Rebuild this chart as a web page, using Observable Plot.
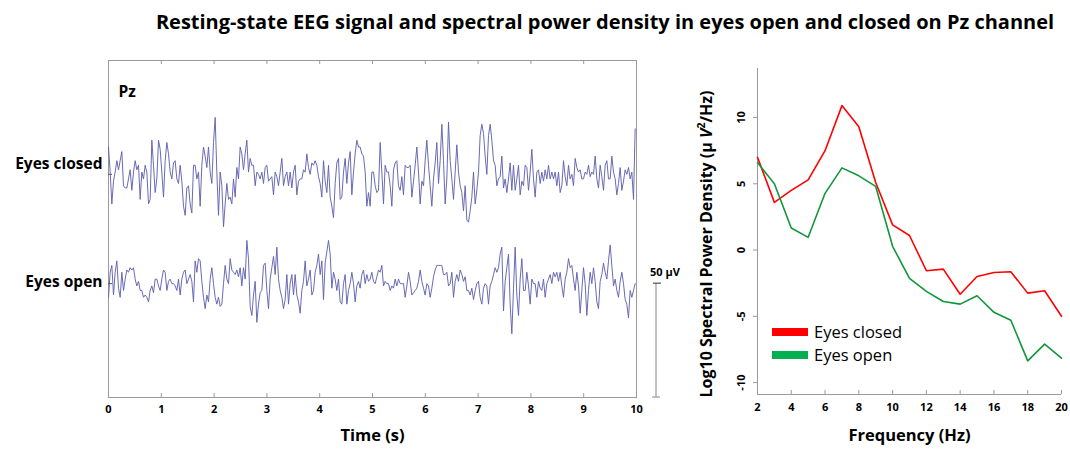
<!DOCTYPE html>
<html>
<head>
<meta charset="utf-8">
<script src="https://cdn.jsdelivr.net/npm/d3@7"></script>
<script src="https://cdn.jsdelivr.net/npm/@observablehq/plot@0.6"></script>
<style>
  body { margin: 0; background: #fff; }
  #wrap { position: relative; width: 1070px; height: 450px; font-family: "Open Sans", Lato, sans-serif; }
  #title { position: absolute; left: 150px; top: 8px; width: 910px; text-align: center; font-weight: bold; font-size: 20px; line-height: 28px; color: #000; white-space: nowrap; }
  #left, #right { position: absolute; top: 0; }
  #left { left: 0; }
  #right { left: 640px; }
  .lg { position: absolute; font-size: 16.5px; line-height: 22px; color: #000; white-space: nowrap; }
  .sw { position: absolute; width: 36px; height: 8px; }
</style>
</head>
<body>
<div id="wrap">
  <div id="title">Resting-state EEG signal and spectral power density in eyes open and closed on Pz channel</div>
  <div id="left"></div>
  <div id="right"></div>
</div>
<script>
// ---------- EEG traces (µV) ----------
const sampleRate = 31.68; // samples per second
const channelName = "Pz";
const traceNames = ["Eyes closed", "Eyes open"];
const traceOffsets = [98, 50]; // µV baseline offsets of each trace
const scaleBarUV = 50;
const timeTicks = [0,1,2,3,4,5,6,7,8,9,10];

const eyesClosed = [
  12,1,-13,-3,1,6,2,6,10,-5,-6,-6,-2,2,-7,1,6,2,4,-11,1,-2,4,1,-13,-11,15,4,-8,-2,15,11,1,-10,6,14,9,1,-2,5,6,-2,-4,4,-3,-14,-18,-6,-5,-13,-17,4,
  4,-2,1,-14,4,12,8,3,12,1,-4,14,25,1,-18,1,-5,-23,-13,-4,-11,-10,-13,-2,-10,3,-2,12,9,2,9,15,1,7,4,4,-5,1,0,-2,1,-4,3,4,-3,-2,-1,-9,1,-1,-5,1,7,-5,
  -1,1,-5,1,-6,1,4,-9,-3,-2,-2,2,1,9,3,0,5,4,6,4,-1,-4,-10,6,-3,-8,4,-10,-14,-19,-4,5,7,-11,-10,1,7,-4,5,10,-9,1,9,15,12,12,9,8,1,-14,-8,-14,1,1,
  -5,-8,-7,14,1,-13,4,1,1,-5,-14,2,5,6,-5,-7,-1,-9,4,3,3,4,-10,-3,4,12,1,-13,-3,-5,6,15,4,-5,-14,-2,5,14,-4,6,22,6,-13,-2,23,6,-2,-11,1,13,1,-5,-8,-16,
  -5,-20,-21,-16,-10,1,-13,-7,1,17,22,18,8,0,17,22,15,6,4,-5,-2,-1,8,-6,-2,-8,-2,5,-7,4,-7,-2,4,-9,-3,-5,4,3,-7,1,11,-2,-10,1,2,-4,1,-3,2,-2,4,-2,1,-2,
  1,-5,1,-8,-5,6,-1,-5,4,-2,0,-5,7,3,1,2,-2,-2,1,0,4,-1,1,0,8,-2,-6,4,-1,-7,4,6,-2,-2,8,1,-2,-9,-4,3,-7,-3,2,0,3,-2,1,-11,20
];
const eyesOpen = [
  -6,5,8,-5,5,10,-2,-6,5,-3,2,6,5,7,6,7,2,-1,1,-3,-3,-6,-5,-6,-8,-3,-1,-4,2,2,-1,-3,2,6,5,-3,1,2,0,0,-1,-3,2,-5,2,5,6,0,2,4,1,-8,
  10,5,11,10,1,-6,-11,-5,-8,2,7,0,-6,-9,-6,-10,-9,0,8,2,0,11,6,5,4,6,3,7,-1,7,2,19,11,-10,-14,-5,1,-17,-9,-4,-3,8,9,-3,-11,2,7,12,4,16,2,-3,-6,-11,
  -7,4,-9,0,4,-5,4,-5,-8,-13,-3,1,10,-1,2,6,-5,-3,5,8,13,4,10,-7,9,14,19,13,-2,5,2,-3,2,-8,-9,0,4,-9,-3,0,5,0,-8,-1,1,-2,4,6,0,4,1,2,5,1,
  0,3,6,5,8,-1,1,0,0,-3,-1,-2,2,-1,2,0,0,0,-6,-1,5,1,-5,-4,-3,-2,1,6,1,-2,-5,0,-1,-6,-2,3,6,8,8,8,8,4,4,5,-1,0,5,-6,1,4,1,6,4,1,
  3,-3,-3,-5,-2,-7,-3,0,1,-6,-9,-2,0,-1,-9,-1,1,4,7,5,7,13,16,-12,1,7,13,-9,-22,-2,16,-5,-14,2,11,-3,-3,5,-1,-9,2,0,0,-6,1,-2,-3,2,-6,0,2,4,0,5,
  3,5,1,5,-1,-6,2,5,11,7,8,2,-3,5,-1,-13,-3,7,0,-14,-3,5,0,7,1,-8,-11,1,4,9,5,2,10,17,8,-1,2,-3,-6,1,5,0,-7,-9,-15,-3,-6,-3,0
];

// ---------- Spectral power density ----------
const frequencies = [2,3,4,5,6,7,8,9,10,11,12,13,14,15,16,17,18,19,20];
const psdClosed = [7.0,3.6,4.5,5.3,7.5,10.9,9.3,5.1,1.9,1.1,-1.56,-1.44,-3.33,-2.0,-1.69,-1.64,-3.25,-3.07,-5.0];
const psdOpen   = [6.6,5.0,1.66,0.96,4.28,6.2,5.6,4.8,0.28,-2.14,-3.12,-3.88,-4.08,-3.45,-4.7,-5.3,-8.36,-7.1,-8.16];
const seriesNames = ["Eyes closed", "Eyes open"];
const seriesColors = ["#ff0000", "#10973a"];
const legendColors = ["#ff0000", "#00b050"];
const freqTicks = [2,4,6,8,10,12,14,16,18,20];
const powerTicks = [-10,-5,0,5,10];
const powerDomain = [-10.9, 13.7];

const axisGray = "#9a9a9a";
const font = "'Open Sans', Lato, sans-serif";

// ---------- Left panel ----------
const eegRows = [];
[eyesClosed, eyesOpen].forEach((arr, k) => {
  arr.forEach((v, i) => eegRows.push({t: i / sampleRate, v: v + traceOffsets[k], trace: traceNames[k]}));
});

const W1 = 690, H = 450, mL1 = 108, mR1 = 54, mT1 = 60, mB1 = 53;
const frameH1 = H - mT1 - mB1;
const left = Plot.plot({
  width: W1, height: H,
  marginLeft: mL1, marginRight: mR1, marginTop: mT1, marginBottom: mB1,
  style: {fontFamily: font, background: "transparent", overflow: "visible"},
  x: {domain: [0, 10]},
  y: {domain: [0, 148]},
  marks: [
    Plot.frame({stroke: axisGray}),
    Plot.tickX(timeTicks, {x: d => d, insetTop: frameH1 - 4, stroke: axisGray}),
    Plot.tickX(timeTicks, {x: d => d, insetBottom: frameH1 - 4, stroke: axisGray}),
    Plot.tickY(traceOffsets, {y: d => d, insetRight: (W1 - mL1 - mR1) - 4, stroke: "#555"}),
    Plot.axisX({ticks: timeTicks, tickSize: 0, tickPadding: 8, fontSize: 11, fontWeight: "bold", label: null, tickFormat: d => String(d)}),
    Plot.axisY({ticks: [], label: null}),
    Plot.line(eegRows, {x: "t", y: "v", z: "trace", stroke: "#6262b0", strokeWidth: 0.95}),
    Plot.text([traceNames[0]], {x: 0, y: traceOffsets[0], textAnchor: "end", dx: -6, dy: -10, fontSize: 15.5, fontWeight: "bold", fill: "#000"}),
    Plot.text([traceNames[1]], {x: 0, y: traceOffsets[1], textAnchor: "end", dx: -6, dy: -2, fontSize: 15.5, fontWeight: "bold", fill: "#000"}),
    Plot.text([channelName], {frameAnchor: "top-left", dx: 10, dy: 25, fontSize: 15.5, fontWeight: "bold", fill: "#000"}),
    Plot.text(["Time (s)"], {frameAnchor: "bottom", dy: 43, fontSize: 16.5, fontWeight: "bold", fill: "#000"})
  ]
});
document.getElementById("left").appendChild(left);

// scale bar drawn with the plot's own scales
{
  const sx = left.scale("x"), sy = left.scale("y");
  const bx = sx.apply(10) + 20;
  const y0 = sy.apply(0), y1 = sy.apply(scaleBarUV);
  const g = d3.select(left).append("g").attr("stroke", "#888").attr("stroke-width", 1);
  g.append("line").attr("x1", bx).attr("x2", bx).attr("y1", y0).attr("y2", y1);
  g.append("line").attr("x1", bx - 4).attr("x2", bx + 4).attr("y1", y0).attr("y2", y0);
  g.append("line").attr("x1", bx - 3).attr("x2", bx + 5).attr("y1", y1).attr("y2", y1).attr("stroke", "#333");
  d3.select(left).append("text").attr("x", bx + 9).attr("y", y1 - 7)
    .attr("text-anchor", "middle")
    .attr("font-family", font).attr("font-size", 11).attr("font-weight", "bold").attr("fill", "#000")
    .text(scaleBarUV + " µV");
}

// ---------- Right panel ----------
const psdRows = [];
frequencies.forEach((f, i) => {
  psdRows.push({f, p: psdClosed[i], series: seriesNames[0]});
});
frequencies.forEach((f, i) => {
  psdRows.push({f, p: psdOpen[i], series: seriesNames[1]});
});
const W2 = 430, mL2 = 117, mR2 = 9, mT2 = 68, mB2 = 56;
const frameH2 = H - mT2 - mB2;
const right = Plot.plot({
  width: W2, height: H,
  marginLeft: mL2, marginRight: mR2, marginTop: mT2, marginBottom: mB2,
  style: {fontFamily: font, background: "transparent", overflow: "visible"},
  x: {domain: [2, 20]},
  y: {domain: powerDomain},
  color: {domain: seriesNames, range: seriesColors},
  marks: [
    Plot.ruleX([frequencies[0]], {stroke: axisGray}),
    Plot.ruleY([powerDomain[0]], {stroke: axisGray}),
    Plot.tickX(freqTicks, {x: d => d, insetTop: frameH2 - 4, stroke: axisGray}),
    Plot.axisX({ticks: freqTicks, tickSize: 0, tickPadding: 9, fontSize: 11, fontWeight: "bold", label: null, tickFormat: d => String(d)}),
    Plot.axisY({ticks: powerTicks, tickSize: 4, tickPadding: 9, tickRotate: -90, fontSize: 11, fontWeight: "bold", label: null, tickFormat: d => String(d), stroke: axisGray}),
    Plot.line(psdRows, {x: "f", y: "p", z: "series", stroke: "series", strokeWidth: 1.6}),
    Plot.text(["Frequency (Hz)"], {frameAnchor: "bottom", dy: 46, fontSize: 16.5, fontWeight: "bold", fill: "#000"})
  ]
});
document.getElementById("right").appendChild(right);

// rotated y label with italic V and superscript 2
{
  const t = d3.select(right).append("text")
    .attr("transform", `translate(${mL2 - 49},244) rotate(-90)`)
    .attr("text-anchor", "middle").attr("dominant-baseline", "middle")
    .attr("font-family", font).attr("font-size", 16).attr("font-weight", "bold").attr("fill", "#000");
  t.append("tspan").text("Log10 Spectral Power Density (µ ");
  t.append("tspan").attr("font-style", "italic").text("V");
  t.append("tspan").attr("font-size", 10.5).attr("dy", -6).text("2");
  t.append("tspan").attr("dy", 6).text("/Hz)");
}

// legend
{
  const wrap = document.getElementById("wrap");
  const tops = [328, 351];
  seriesNames.forEach((n, i) => {
    const sw = document.createElement("div");
    sw.className = "sw";
    sw.style.left = "772px"; sw.style.top = tops[i] + "px"; sw.style.background = legendColors[i];
    wrap.appendChild(sw);
    const lb = document.createElement("div");
    lb.className = "lg";
    lb.style.left = "814px"; lb.style.top = (tops[i] - 7) + "px";
    lb.textContent = n;
    wrap.appendChild(lb);
  });
}
</script>
</body>
</html>
